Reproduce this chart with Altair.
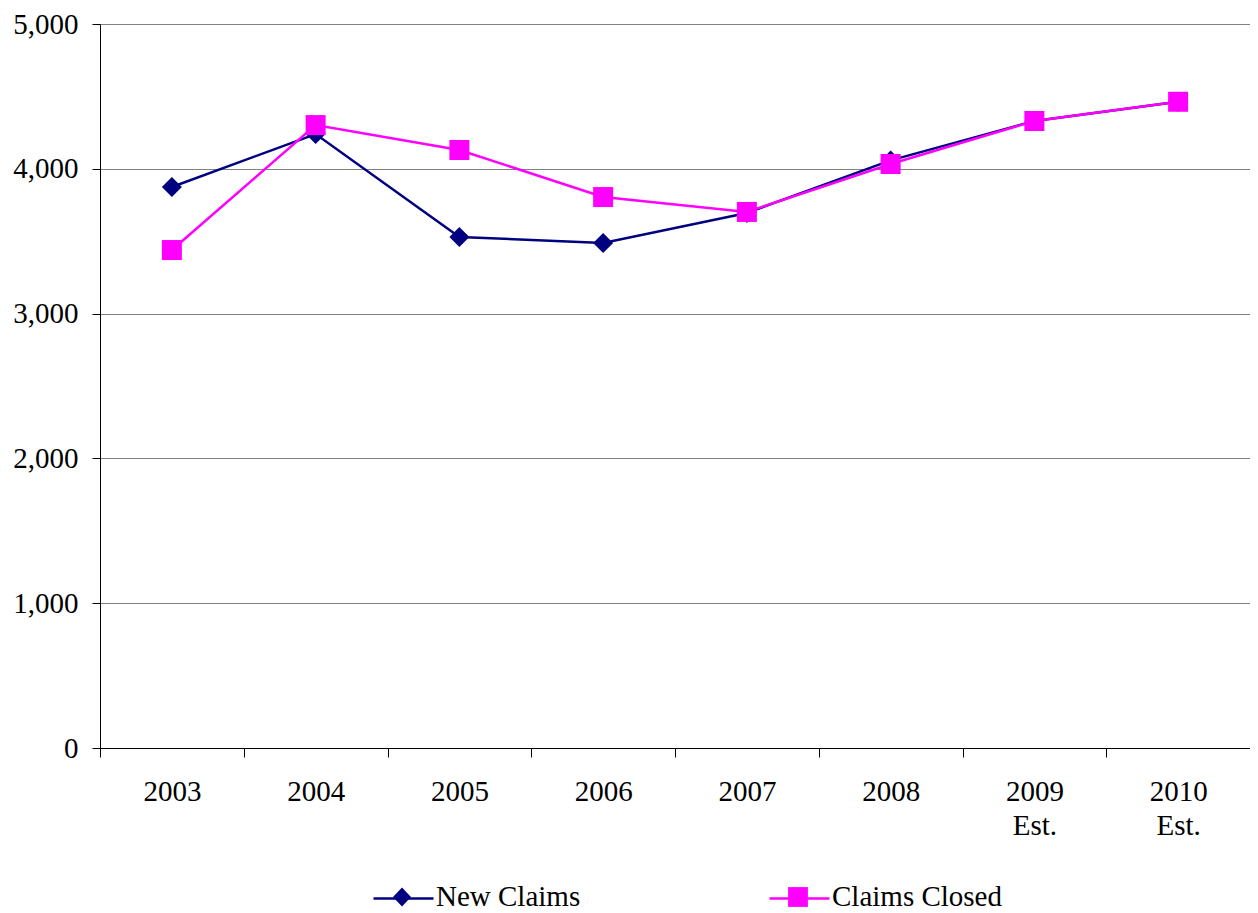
import altair as alt
import pandas as pd

years = ["2003", "2004", "2005", "2006", "2007", "2008", "2009 Est.", "2010 Est."]
new_claims = [3874, 4240, 3529, 3488, 3695, 4058, 4330, 4463]
claims_closed = [3439, 4302, 4130, 3805, 3702, 4033, 4330, 4463]
series = ["New Claims", "Claims Closed"]
colors = ["#000080", "#FF00FF"]
plot_shapes = ["diamond", "square"]
legend_paths = [
    "M0,-0.32L0.3,0L0,0.32L-0.3,0Z",
    "M-0.33,-0.33H0.33V0.33H-0.33Z",
]
legend_x = [272, 668]
legend_y = 843

rows = []
for i, y in enumerate(years):
    rows.append({"year": y, "series": series[0], "value": new_claims[i], "order": i})
    rows.append({"year": y, "series": series[1], "value": claims_closed[i], "order": i})
df = pd.DataFrame(rows)

FONT = "Liberation Serif"

x_enc = alt.X(
    "year:N",
    sort=years,
    scale=alt.Scale(type="band", paddingInner=0, paddingOuter=0),
    axis=alt.Axis(
        title=None,
        labelExpr="split(datum.label, ' ')",
        labelAngle=0,
        tickBand="extent",
        tickSize=9,
        tickColor="black",
        domainColor="black",
        labelPadding=20,
        labelLineHeight=34,
        labelFont=FONT,
        labelFontSize=29,
        labelColor="black",
        grid=False,
    ),
)
y_enc = alt.Y(
    "value:Q",
    scale=alt.Scale(domain=[0, 5000], nice=False),
    axis=alt.Axis(
        title=None,
        values=[0, 1000, 2000, 3000, 4000, 5000],
        format=",.0f",
        tickSize=8,
        tickColor="black",
        domainColor="black",
        labelPadding=14,
        labelFont=FONT,
        labelFontSize=29,
        labelColor="black",
        grid=True,
        gridColor="#808080",
        gridWidth=1,
    ),
)
color_scale = alt.Scale(domain=series, range=colors)

lines = alt.Chart(df).mark_line(strokeWidth=2.5).encode(
    x=x_enc,
    y=y_enc,
    color=alt.Color("series:N", scale=color_scale, legend=None),
    order="order:Q",
)

points = alt.Chart(df).mark_point(filled=True, opacity=1, size=400).encode(
    x=x_enc,
    y=y_enc,
    color=alt.Color("series:N", scale=color_scale, legend=None),
    shape=alt.Shape("series:N", scale=alt.Scale(domain=series, range=plot_shapes), legend=None),
)

legend_layers = []
for k in range(2):
    sub = alt.Chart(df).transform_filter(alt.datum.series == series[k])
    # line part of the legend symbol (no label text)
    line_leg = sub.mark_line(color=colors[k], strokeWidth=2.5, opacity=0).encode(
        x=x_enc,
        y=y_enc,
        strokeDash=alt.StrokeDash(
            "series:N",
            scale=alt.Scale(domain=[series[k]], range=[[1, 0]]),
            legend=alt.Legend(
                title=None,
                orient="none",
                legendX=legend_x[k],
                legendY=legend_y,
                padding=0,
                symbolType="stroke",
                symbolSize=3600,
                symbolStrokeColor=colors[k],
                symbolStrokeWidth=2.5,
                symbolOpacity=1,
                labelExpr="''",
                labelFontSize=29,
                labelOffset=4,
            ),
        ),
    )
    # marker part of the legend symbol, with the label
    mark_leg = sub.mark_point(filled=True, color=colors[k], opacity=0).encode(
        x=x_enc,
        y=y_enc,
        shape=alt.Shape(
            "series:N",
            scale=alt.Scale(domain=[series[k]], range=[legend_paths[k]]),
            legend=alt.Legend(
                title=None,
                orient="none",
                legendX=legend_x[k],
                legendY=legend_y,
                padding=0,
                symbolSize=3600,
                symbolFillColor=colors[k],
                symbolStrokeWidth=0,
                symbolOpacity=1,
                labelFont=FONT,
                labelFontSize=29,
                labelColor="black",
                labelOffset=4,
                labelLimit=400,
            ),
        ),
    )
    legend_layers += [line_leg, mark_leg]

chart = (
    alt.layer(lines, points, *legend_layers)
    .resolve_scale(shape="independent", strokeDash="independent")
    .properties(
        width=1150,
        height=724,
        background="white",
        autosize=alt.AutoSizeParams(type="none"),
        padding={"left": 92, "top": 16, "right": 0, "bottom": 165},
    )
    .configure_view(stroke=None)
)

chart.save("out.html", embed_options={"renderer": "svg", "actions": False})
